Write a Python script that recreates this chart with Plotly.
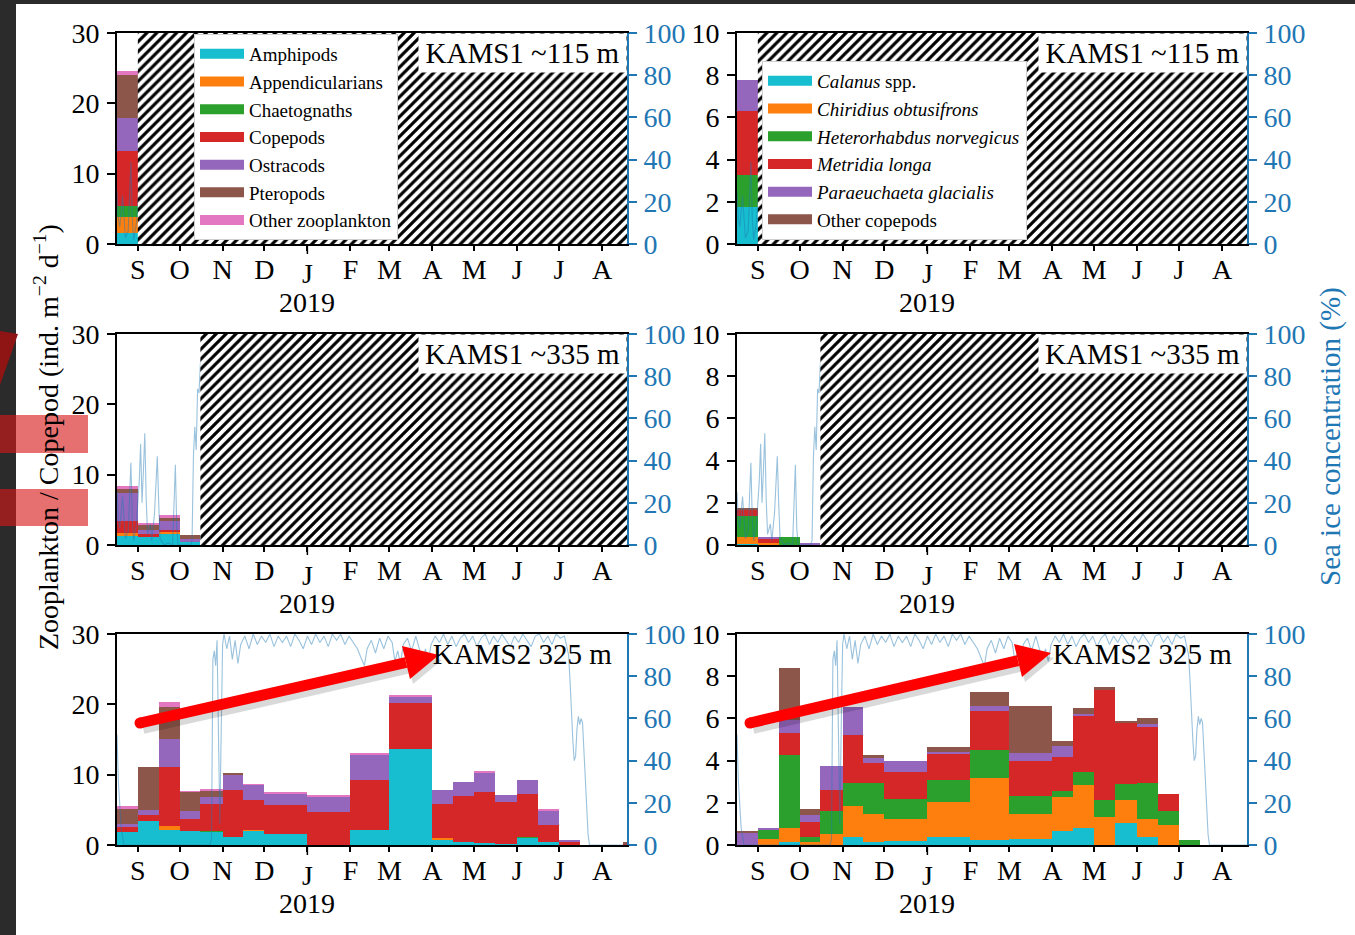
import pandas as pd
import plotly.graph_objects as go

W, H = 1355, 935
FONT = "Liberation Serif"
BLUE = "#1f77b4"
ICE_LINE = "rgba(31,119,180,0.45)"

# ---------------- axis / tick data ----------------
X_START, X_END = "2018-08-17", "2019-08-19"
HATCH_END = "2019-08-31"
month_ticks = ["2018-09-01", "2018-10-01", "2018-11-01", "2018-12-01", "2019-01-01", "2019-02-01",
               "2019-03-01", "2019-04-01", "2019-05-01", "2019-06-01", "2019-07-01", "2019-08-01"]
month_letters = ["S", "O", "N", "D", "J", "F", "M", "A", "M", "J", "J", "A"]
year_tick = "2019-01-01"
year_label = "2019"
zoo_ticks = [0, 10, 20, 30]
cop_ticks = [0, 2, 4, 6, 8, 10]
ice_ticks = [0, 20, 40, 60, 80, 100]

# ---------------- categories ----------------
zoo_names = ["Amphipods", "Appendicularians", "Chaetognaths", "Copepods", "Ostracods", "Pteropods",
             "Other zooplankton"]
zoo_colors = ["#17becf", "#ff7f0e", "#2ca02c", "#d62728", "#9467bd", "#8c564b", "#e377c2"]
cop_names = ["<i>Calanus</i> spp.", "<i>Chiridius obtusifrons</i>", "<i>Heterorhabdus norvegicus</i>",
             "<i>Metridia longa</i>", "<i>Paraeuchaeta glacialis</i>", "Other copepods"]
cop_colors = ["#17becf", "#ff7f0e", "#2ca02c", "#d62728", "#9467bd", "#8c564b"]

# ---------------- KAMS1 ~115 m ----------------
k1_115_starts = ["2018-08-15"]
k1_115_end = "2018-09-01"
k1_115_amphipods = [1.5]
k1_115_appendicularians = [2.27]
k1_115_chaetognaths = [1.65]
k1_115_copepods = [7.8]
k1_115_ostracods = [4.7]
k1_115_pteropods = [6.14]
k1_115_other = [0.47]
k1_115_calanus = [1.76]
k1_115_chiridius = [0.0]
k1_115_heterorhabdus = [1.5]
k1_115_metridia = [3.02]
k1_115_paraeuchaeta = [1.5]
k1_115_othercop = [0.0]
k1_115_nodata_from = "2018-09-01"

# ---------------- KAMS1 ~335 m ----------------
k1_335_starts = ["2018-08-15", "2018-09-01", "2018-09-16", "2018-10-01"]
k1_335_end = "2018-10-16"
k1_335_amphipods = [1.42, 1.15, 1.7, 0.45]
k1_335_appendicularians = [0.24, 0.0, 0.2, 0.0]
k1_335_chaetognaths = [0.0, 0.0, 0.0, 0.0]
k1_335_copepods = [1.75, 0.45, 0.2, 0.0]
k1_335_ostracods = [3.92, 0.6, 1.3, 0.4]
k1_335_pteropods = [0.6, 0.7, 0.57, 0.6]
k1_335_other = [0.5, 0.1, 0.25, 0.0]
k1_335_calanus = [0.05, 0.0, 0.0, 0.0]
k1_335_chiridius = [0.35, 0.1, 0.0, 0.0]
k1_335_heterorhabdus = [0.98, 0.0, 0.39, 0.0]
k1_335_metridia = [0.3, 0.18, 0.0, 0.0]
k1_335_paraeuchaeta = [0.0, 0.12, 0.0, 0.1]
k1_335_othercop = [0.05, 0.0, 0.0, 0.0]
k1_335_nodata_from = "2018-10-16"

# ---------------- KAMS2 325 m ----------------
k2_starts = ["2018-08-15", "2018-09-01", "2018-09-16", "2018-10-01", "2018-10-16", "2018-11-01",
             "2018-11-16", "2018-12-01", "2019-01-01", "2019-02-01", "2019-03-01", "2019-04-01",
             "2019-04-16", "2019-05-01", "2019-05-16", "2019-06-01", "2019-06-16", "2019-07-01",
             "2019-07-16", "2019-08-16"]
k2_end = "2019-08-31"
k2_amphipods = [1.8, 3.4, 2.1, 2.0, 1.9, 1.15, 2.1, 1.6, 0.0, 2.1, 13.6, 0.8, 0.45, 0.25, 0.15, 1.0, 0.4, 0.0, 0.0, 0.0]
k2_appendicularians = [0.0, 0.0, 0.6, 0.0, 0.0, 0.0, 0.1, 0.0, 0.0, 0.0, 0.0, 0.15, 0.0, 0.0, 0.0, 0.0, 0.0, 0.0, 0.0, 0.0]
k2_chaetognaths = [0.0, 0.0, 0.0, 0.05, 0.1, 0.0, 0.0, 0.0, 0.0, 0.0, 0.0, 0.0, 0.0, 0.0, 0.0, 0.15, 0.0, 0.0, 0.0, 0.0]
k2_copepods = [0.75, 0.85, 8.4, 1.7, 3.8, 6.6, 4.2, 4.05, 4.7, 7.2, 6.6, 4.9, 6.45, 7.35, 5.95, 6.1, 2.4, 0.55, 0.0, 0.1]
k2_ostracods = [0.5, 0.7, 4.0, 1.1, 1.0, 2.3, 2.2, 1.65, 2.2, 3.5, 0.95, 2.0, 2.05, 2.75, 1.0, 1.95, 2.15, 0.2, 0.0, 0.0]
k2_pteropods = [2.2, 6.2, 4.5, 2.7, 1.0, 0.15, 0.0, 0.0, 0.0, 0.0, 0.0, 0.0, 0.0, 0.0, 0.0, 0.0, 0.0, 0.0, 0.0, 0.3]
k2_other = [0.25, 0.0, 0.75, 0.1, 0.05, 0.0, 0.05, 0.3, 0.1, 0.15, 0.1, 0.0, 0.0, 0.1, 0.0, 0.0, 0.05, 0.0, 0.0, 0.0]
k2_calanus = [0.0, 0.0, 0.14, 0.0, 0.0, 0.39, 0.14, 0.2, 0.39, 0.22, 0.27, 0.68, 0.8, 0.0, 1.02, 0.39, 0.0, 0.0, 0.0, 0.0]
k2_chiridius = [0.0, 0.27, 0.66, 0.14, 0.5, 1.48, 1.33, 1.04, 1.65, 2.94, 1.21, 1.6, 2.03, 1.33, 1.11, 0.82, 0.93, 0.0, 0.0, 0.0]
k2_heterorhabdus = [0.0, 0.42, 3.47, 0.25, 1.13, 1.07, 1.46, 0.94, 1.05, 1.35, 0.83, 0.27, 0.64, 0.8, 0.74, 1.73, 0.67, 0.25, 0.0, 0.0]
k2_metridia = [0.0, 0.0, 1.05, 0.69, 0.99, 2.28, 0.94, 1.3, 1.26, 1.85, 1.65, 1.6, 2.65, 5.2, 2.92, 2.67, 0.8, 0.0, 0.0, 0.0]
k2_paraeuchaeta = [0.55, 0.11, 0.6, 0.36, 1.13, 1.33, 0.27, 0.5, 0.08, 0.24, 0.42, 0.52, 0.11, 0.0, 0.0, 0.13, 0.0, 0.0, 0.0, 0.0]
k2_othercop = [0.13, 0.0, 2.48, 0.28, 0.0, 0.0, 0.13, 0.0, 0.22, 0.63, 2.2, 0.27, 0.28, 0.14, 0.09, 0.27, 0.0, 0.0, 0.0, 0.0]

# ---------------- sea ice concentration (%) ----------------
ice1_dates = ["2018-08-15", "2018-08-17", "2018-08-18", "2018-08-19", "2018-08-21", "2018-08-22",
              "2018-08-23", "2018-08-25", "2018-08-27", "2018-08-28", "2018-08-29", "2018-08-31",
              "2018-09-02", "2018-09-03", "2018-09-04", "2018-09-05", "2018-09-06", "2018-09-07",
              "2018-09-08", "2018-09-10", "2018-09-11", "2018-09-13", "2018-09-15", "2018-09-16",
              "2018-09-17", "2018-09-20", "2018-09-23", "2018-09-26", "2018-09-28", "2018-09-29",
              "2018-09-30", "2018-10-03", "2018-10-06", "2018-10-09", "2018-10-10", "2018-10-11",
              "2018-10-12", "2018-10-13", "2018-10-14", "2018-10-15", "2018-10-16", "2018-10-18",
              "2018-10-21"]
ice1_vals = [27, 25, 12, 8, 23, 10, 3, 6, 39, 12, 2, 10, 30, 48, 20, 35, 53, 22, 5, 10, 2, 15, 42, 20,
             3, 0, 1, 0, 38, 8, 0, 0, 0, 0, 2, 42, 56, 45, 74, 72, 86, 90, 95]

ice2_dates = ["2018-08-15", "2018-08-17", "2018-08-18", "2018-08-19", "2018-08-20", "2018-08-22",
              "2018-09-01", "2018-09-15", "2018-10-01", "2018-10-15", "2018-10-23", "2018-10-24",
              "2018-10-25", "2018-10-26", "2018-10-27", "2018-10-28", "2018-10-29", "2018-10-30",
              "2018-10-31", "2018-11-01", "2018-11-02", "2018-11-04", "2018-11-06", "2018-11-08",
              "2018-11-10", "2018-11-12", "2018-11-14", "2018-11-17", "2018-11-20", "2018-11-23",
              "2018-11-26", "2018-11-29", "2018-12-02", "2018-12-05", "2018-12-08", "2018-12-11",
              "2018-12-14", "2018-12-17", "2018-12-20", "2018-12-23", "2018-12-26", "2018-12-29",
              "2019-01-01", "2019-01-04", "2019-01-07", "2019-01-10", "2019-01-13", "2019-01-16",
              "2019-01-19", "2019-01-22", "2019-01-25", "2019-01-28", "2019-01-31", "2019-02-03",
              "2019-02-06", "2019-02-09", "2019-02-11", "2019-02-13", "2019-02-16", "2019-02-19",
              "2019-02-22", "2019-02-25", "2019-02-28", "2019-03-03", "2019-03-05", "2019-03-07",
              "2019-03-09", "2019-03-11", "2019-03-14", "2019-03-17", "2019-03-20", "2019-03-23",
              "2019-03-25", "2019-03-27", "2019-03-29", "2019-03-31", "2019-04-03", "2019-04-06",
              "2019-04-09", "2019-04-12", "2019-04-15", "2019-04-18", "2019-04-21", "2019-04-24",
              "2019-04-27", "2019-04-30", "2019-05-03", "2019-05-06", "2019-05-09", "2019-05-12",
              "2019-05-15", "2019-05-18", "2019-05-21", "2019-05-24", "2019-05-27", "2019-05-30",
              "2019-06-02", "2019-06-05", "2019-06-08", "2019-06-11", "2019-06-14", "2019-06-17",
              "2019-06-20", "2019-06-23", "2019-06-26", "2019-06-29", "2019-07-02", "2019-07-05",
              "2019-07-07", "2019-07-08", "2019-07-09", "2019-07-10", "2019-07-11", "2019-07-12",
              "2019-07-13", "2019-07-14", "2019-07-15", "2019-07-16", "2019-07-17", "2019-07-18",
              "2019-07-19", "2019-07-20", "2019-07-21", "2019-07-22", "2019-07-23", "2019-08-01",
              "2019-08-20"]
ice2_vals = [55, 52, 30, 20, 8, 0, 0, 0, 0, 0, 0, 3, 88, 92, 85, 97, 60, 10, 55, 95, 100, 93, 99, 88,
             97, 86, 95, 99, 93, 100, 95, 99, 96, 100, 94, 99, 96, 99, 94, 100, 97, 93,
             99, 95, 100, 96, 99, 94, 100, 97, 100, 95, 99, 96, 93, 88, 85, 93, 97, 91,
             98, 93, 99, 96, 87, 92, 86, 95, 98, 92, 99, 92, 88, 93, 87, 95, 99, 96,
             100, 95, 99, 94, 98, 100, 96, 99, 94, 98, 100, 95, 99, 96, 100, 97, 94, 99,
             96, 100, 97, 94, 99, 100, 96, 99, 95, 100, 98, 99, 93, 90, 78, 62, 50, 40,
             42, 55, 61, 57, 60, 58, 45, 25, 12, 5, 0, 0, 0]

# ---------------- panel table ----------------
zoo_115 = [k1_115_amphipods, k1_115_appendicularians, k1_115_chaetognaths, k1_115_copepods,
           k1_115_ostracods, k1_115_pteropods, k1_115_other]
cop_115 = [k1_115_calanus, k1_115_chiridius, k1_115_heterorhabdus, k1_115_metridia,
           k1_115_paraeuchaeta, k1_115_othercop]
zoo_335 = [k1_335_amphipods, k1_335_appendicularians, k1_335_chaetognaths, k1_335_copepods,
           k1_335_ostracods, k1_335_pteropods, k1_335_other]
cop_335 = [k1_335_calanus, k1_335_chiridius, k1_335_heterorhabdus, k1_335_metridia,
           k1_335_paraeuchaeta, k1_335_othercop]
zoo_k2 = [k2_amphipods, k2_appendicularians, k2_chaetognaths, k2_copepods, k2_ostracods,
          k2_pteropods, k2_other]
cop_k2 = [k2_calanus, k2_chiridius, k2_heterorhabdus, k2_metridia, k2_paraeuchaeta, k2_othercop]

panels = [
    dict(row=0, col=0, starts=k1_115_starts, end=k1_115_end, vals=zoo_115, zoo=True,
         ice=(ice1_dates, ice1_vals), hatch=k1_115_nodata_from, label="KAMS1 ~115 m", boxed=True),
    dict(row=0, col=1, starts=k1_115_starts, end=k1_115_end, vals=cop_115, zoo=False,
         ice=(ice1_dates, ice1_vals), hatch=k1_115_nodata_from, label="KAMS1 ~115 m", boxed=True),
    dict(row=1, col=0, starts=k1_335_starts, end=k1_335_end, vals=zoo_335, zoo=True,
         ice=(ice1_dates, ice1_vals), hatch=k1_335_nodata_from, label="KAMS1 ~335 m", boxed=True),
    dict(row=1, col=1, starts=k1_335_starts, end=k1_335_end, vals=cop_335, zoo=False,
         ice=(ice1_dates, ice1_vals), hatch=k1_335_nodata_from, label="KAMS1 ~335 m", boxed=True),
    dict(row=2, col=0, starts=k2_starts, end=k2_end, vals=zoo_k2, zoo=True,
         ice=(ice2_dates, ice2_vals), hatch=None, label="KAMS2 325 m", boxed=False),
    dict(row=2, col=1, starts=k2_starts, end=k2_end, vals=cop_k2, zoo=False,
         ice=(ice2_dates, ice2_vals), hatch=None, label="KAMS2 325 m", boxed=False),
]

# ---------------- layout geometry (pixels) ----------------
col_px = [(117, 627), (737, 1247)]
row_px = [(33, 244), (334, 545), (634, 845)]


def pxx(p):
    return p / W


def pxy(p):
    return 1 - p / H


fig = go.Figure()
layout = dict(
    width=W, height=H, margin=dict(l=0, r=0, t=0, b=0, autoexpand=False),
    paper_bgcolor="#2b2b2b", plot_bgcolor="white",
    barmode="stack", hovermode=False,
    font=dict(family=FONT, size=28, color="black"),
)
annotations = []
shapes = []

tickfont = dict(family=FONT, size=28, color="black")

for i, p in enumerate(panels, start=1):
    xa = "x" if i == 1 else f"x{i}"
    xkey = "xaxis" if i == 1 else f"xaxis{i}"
    pi, si = 2 * i - 1, 2 * i
    ya = "y" if pi == 1 else f"y{pi}"
    ykey = "yaxis" if pi == 1 else f"yaxis{pi}"
    y2 = f"y{si}"
    y2key = f"yaxis{si}"
    (c0, c1), (r0, r1) = col_px[p["col"]], row_px[p["row"]]

    names = zoo_names if p["zoo"] else cop_names
    colors = zoo_colors if p["zoo"] else cop_colors
    edges = p["starts"] + [p["end"]]
    widths = [(pd.Timestamp(edges[k + 1]) - pd.Timestamp(edges[k])).total_seconds() * 1000
              for k in range(len(p["starts"]))]
    for name, col, v in zip(names, colors, p["vals"]):
        fig.add_trace(go.Bar(x=p["starts"], y=v, width=widths, offset=0, name=name,
                             marker=dict(color=col, line=dict(width=0)),
                             xaxis=xa, yaxis=ya, showlegend=False))
    # sea ice line
    fig.add_trace(go.Scatter(x=p["ice"][0], y=p["ice"][1], mode="lines",
                             line=dict(color=ICE_LINE, width=1.1), xaxis=xa, yaxis=y2,
                             showlegend=False))
    # no-data hatch
    if p["hatch"]:
        fig.add_trace(go.Scatter(x=[p["hatch"], HATCH_END, HATCH_END, p["hatch"], p["hatch"]],
                                 y=[0, 0, 100, 100, 0], mode="lines", fill="toself",
                                 line=dict(width=0, color="black"),
                                 fillpattern=dict(shape="/", fgcolor="black", bgcolor="white",
                                                  size=7, solidity=0.45, fillmode="replace"),
                                 xaxis=xa, yaxis=y2, showlegend=False))

    ymax = 30 if p["zoo"] else 10
    layout[xkey] = dict(domain=[pxx(c0), pxx(c1)], anchor=ya, type="date", range=[X_START, X_END],
                        tickmode="array", tickvals=month_ticks,
                        ticktext=[("" if t == year_tick else m) for t, m in zip(month_ticks, month_letters)],
                        ticks="outside", ticklen=5, tickwidth=1.5, tickcolor="black",
                        showline=True, linecolor="black", linewidth=1.6, mirror=True,
                        showgrid=False, zeroline=False, tickfont=tickfont, ticklabelstandoff=-5,
                        automargin=False)
    layout[ykey] = dict(domain=[pxy(r1), pxy(r0)], anchor=xa, range=[0, ymax], tickmode="array",
                        tickvals=zoo_ticks if p["zoo"] else cop_ticks,
                        ticks="outside", ticklen=8, tickwidth=1.5, tickcolor="black",
                        showline=True, linecolor="black", linewidth=1.6, showgrid=False,
                        zeroline=False, tickfont=tickfont, ticklabelstandoff=2, automargin=False)
    layout[y2key] = dict(overlaying=ya, anchor=xa, side="right", range=[0, 100], tickmode="array",
                         tickvals=ice_ticks, ticks="outside", ticklen=8, tickwidth=1.5,
                         tickcolor=BLUE, showline=True, linecolor=BLUE, linewidth=1.6,
                         showgrid=False, zeroline=False,
                         tickfont=dict(family=FONT, size=28, color=BLUE), ticklabelstandoff=1,
                         automargin=False)

    # longer year tick + lowered J + year label
    shapes.append(dict(type="line", xref=xa, yref="paper", x0=year_tick, x1=year_tick,
                       y0=pxy(r1), y1=pxy(r1 + 10), line=dict(color="black", width=1.5)))
    annotations.append(dict(x=year_tick, xref=xa, y=pxy(r1 + 30), yref="paper", text="J",
                            showarrow=False, xanchor="center", yanchor="middle", font=tickfont))
    annotations.append(dict(x=year_tick, xref=xa, y=pxy(r1 + 58), yref="paper", text=year_label,
                            showarrow=False, xanchor="center", yanchor="middle", font=tickfont))
    # station label
    lab = dict(x=pxx(c1), xref="paper", y=pxy(r0), yref="paper", text=p["label"], showarrow=False,
               xanchor="right", yanchor="top", font=dict(family=FONT, size=29, color="black"),
               width=205, height=36, align="center", valign="middle", borderpad=1)
    if p["boxed"]:
        lab["bgcolor"] = "white"
    annotations.append(lab)

# legend entries (line swatches)
for name, col in zip(zoo_names, zoo_colors):
    fig.add_trace(go.Scatter(x=[None], y=[None], mode="lines", name=name,
                             line=dict(color=col, width=10), xaxis="x", yaxis="y", legend="legend"))
for name, col in zip(cop_names, cop_colors):
    fig.add_trace(go.Scatter(x=[None], y=[None], mode="lines", name=name,
                             line=dict(color=col, width=10), xaxis="x2", yaxis="y3", legend="legend2"))

legfont = dict(family=FONT, size=19, color="black")
layout["legend"] = dict(x=pxx(194), y=pxy(34), xanchor="left", yanchor="top", bgcolor="white",
                        bordercolor="#cfcfcf", borderwidth=1, font=legfont, tracegroupgap=0,
                        traceorder="normal", itemwidth=44)
layout["legend2"] = dict(x=pxx(762), y=pxy(61), xanchor="left", yanchor="top", bgcolor="white",
                         bordercolor="#cfcfcf", borderwidth=1, font=legfont, tracegroupgap=0,
                         traceorder="normal", itemwidth=44)

# axis titles
annotations.append(dict(x=pxx(46), y=pxy(437), xref="paper", yref="paper",
                        text="Zooplankton / Copepod (ind. m<sup>\u22122</sup> d<sup>\u22121</sup>)",
                        textangle=-90, showarrow=False, xanchor="center", yanchor="middle",
                        font=dict(family=FONT, size=28, color="black")))
annotations.append(dict(x=pxx(1330), y=pxy(437), xref="paper", yref="paper",
                        text="Sea ice concentration (%)", textangle=-90, showarrow=False,
                        xanchor="center", yanchor="middle",
                        font=dict(family=FONT, size=29, color=BLUE)))


# ---------------- slide decorations ----------------
def rect(x0, y0, x1, y1, color, layer="above"):
    return dict(type="rect", xref="paper", yref="paper", x0=pxx(x0), x1=pxx(x1), y0=pxy(y1),
                y1=pxy(y0), fillcolor=color, line=dict(width=0), layer=layer)


def poly(points, color, layer="above"):
    d = "M " + " L ".join(f"{pxx(a):.5f},{pxy(b):.5f}" for a, b in points) + " Z"
    return dict(type="path", xref="paper", yref="paper", path=d, fillcolor=color,
                line=dict(width=0), layer=layer)


def seg(a, b, color, width):
    return dict(type="line", xref="paper", yref="paper", x0=pxx(a[0]), y0=pxy(a[1]), x1=pxx(b[0]),
                y1=pxy(b[1]), line=dict(color=color, width=width), layer="above")


def dot(c, r, color):
    return dict(type="circle", xref="paper", yref="paper", x0=pxx(c[0] - r), x1=pxx(c[0] + r),
                y0=pxy(c[1] + r), y1=pxy(c[1] - r), fillcolor=color, line=dict(width=0), layer="above")


shapes.insert(0, rect(16, 4, W, H, "white", layer="below"))
shapes.append(rect(0, 415, 88, 453, "rgba(215,25,25,0.62)"))
shapes.append(rect(0, 489, 88, 526, "rgba(215,25,25,0.62)"))
shapes.append(poly([(0, 331), (18, 334), (0, 385)], "#8f1515"))

arrows = [((140, 723), (406, 662.5), (439, 655), (402, 646), (410, 679)),
          ((750, 723), (1018, 660.7), (1051, 653), (1014, 644), (1022, 677))]
for tail, base, tip, ca, cb in arrows:
    sh = lambda pt: (pt[0] + 3, pt[1] + 5)
    shapes.append(seg(sh(tail), sh(base), "rgba(0,0,0,0.15)", 12))
    shapes.append(poly([sh(tip), sh(ca), sh(cb)], "rgba(0,0,0,0.15)"))
    shapes.append(seg(tail, base, "#ff0000", 11))
    shapes.append(dot(tail, 5.5, "#ff0000"))
    shapes.append(poly([tip, ca, cb], "#ff0000"))

layout["annotations"] = annotations
layout["shapes"] = shapes
fig.update_layout(**layout)
fig.write_html("out.html")
